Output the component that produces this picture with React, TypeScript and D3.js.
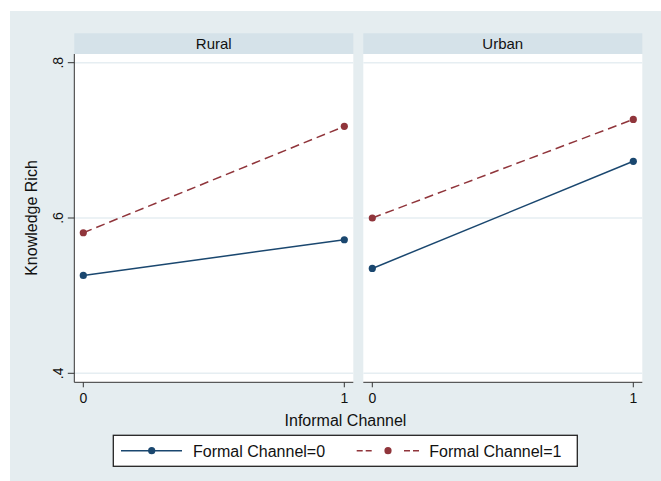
import React from "react";
import * as d3 from "d3";

const panels = ["Rural", "Urban"];
const xTicks = [0, 1];
const yTicks = [0.4, 0.6, 0.8];
const yTickLabels = [".4", ".6", ".8"];
const seriesNames = ["Formal Channel=0", "Formal Channel=1"];
const ruralFormal0 = [0.526, 0.572];
const ruralFormal1 = [0.581, 0.718];
const urbanFormal0 = [0.535, 0.673];
const urbanFormal1 = [0.6, 0.727];
const xTitle = "Informal Channel";
const yTitle = "Knowledge Rich";

const NAVY = "#1a476f";
const MAROON = "#90353b";
const FONT = "'Liberation Sans', Arial, sans-serif";

export default function App() {
  const W = 661, H = 481;
  const panelX = [
    [74.3, 353.3],
    [363.3, 642.3],
  ];
  const headerTop = 33.3, plotTop = 54, plotBottom = 382.3;
  const y = d3.scaleLinear().domain([0.4, 0.8]).range([373.3, 62.7]);
  const data = [
    [ruralFormal0, ruralFormal1],
    [urbanFormal0, urbanFormal1],
  ];
  const colors = [NAVY, MAROON];
  const dashes = [undefined, "9,5"];

  return (
    <svg width={W} height={H} style={{ position: "absolute", left: 0, top: 0, display: "block" }} fontFamily={FONT}>
      <rect x={0} y={0} width={W} height={H} fill="#ffffff" />
      <rect x={10} y={11} width={W - 10} height={H - 11} fill="#e5edf0" />
      {panels.map((name, pi) => {
        const [x0, x1] = panelX[pi];
        const x = d3.scaleLinear().domain([0, 1]).range([x0 + 9, x1 - 9]);
        const line = d3
          .line<number>()
          .x((_, i) => x(xTicks[i]))
          .y((v) => y(v));
        return (
          <g key={name}>
            <rect x={x0} y={headerTop} width={x1 - x0} height={plotTop - headerTop} fill="#d5e2e9" />
            <text x={(x0 + x1) / 2} y={49} textAnchor="middle" fontSize={15} fill="#111">
              {name}
            </text>
            <rect x={x0} y={plotTop} width={x1 - x0} height={plotBottom - plotTop} fill="#ffffff" />
            {yTicks.map((t) => (
              <line key={t} x1={x0} x2={x1} y1={y(t)} y2={y(t)} stroke="#e6eef2" strokeWidth={1.6} />
            ))}
            {data[pi].map((vals, si) => (
              <g key={si}>
                <path d={line(vals) || ""} fill="none" stroke={colors[si]} strokeWidth={1.5} strokeDasharray={dashes[si]} />
                {vals.map((v, i) => (
                  <circle key={i} cx={x(xTicks[i])} cy={y(v)} r={3.6} fill={colors[si]} />
                ))}
              </g>
            ))}
            <line x1={x0} x2={x1} y1={plotBottom} y2={plotBottom} stroke="#333" strokeWidth={1} />
            {xTicks.map((t) => (
              <g key={t}>
                <line x1={x(t)} x2={x(t)} y1={plotBottom} y2={plotBottom + 5} stroke="#333" strokeWidth={1} />
                <text x={x(t)} y={403.3} textAnchor="middle" fontSize={14} fill="#111">
                  {t}
                </text>
              </g>
            ))}
            {pi === 0 && (
              <g>
                <line x1={x0} x2={x0} y1={plotTop} y2={plotBottom} stroke="#333" strokeWidth={1} />
                {yTicks.map((t, i) => (
                  <g key={t}>
                    <line x1={x0 - 6.5} x2={x0} y1={y(t)} y2={y(t)} stroke="#333" strokeWidth={1} />
                    <text
                      transform={`translate(62.5,${y(t)}) rotate(-90)`}
                      textAnchor="middle"
                      fontSize={14}
                      fill="#111"
                    >
                      {yTickLabels[i]}
                    </text>
                  </g>
                ))}
              </g>
            )}
          </g>
        );
      })}
      <text transform={`translate(37,218) rotate(-90)`} textAnchor="middle" fontSize={16} fill="#111">
        {yTitle}
      </text>
      <text x={345.5} y={425.7} textAnchor="middle" fontSize={16} fill="#111">
        {xTitle}
      </text>
      <g>
        <rect x={113.3} y={435.3} width={464} height={31} fill="#ffffff" stroke="#222" strokeWidth={1.3} />
        <line x1={121} x2={182} y1={450.7} y2={450.7} stroke={NAVY} strokeWidth={1.5} />
        <circle cx={151.7} cy={450.7} r={3.6} fill={NAVY} />
        <text x={193} y={456.7} fontSize={16} fill="#111">
          {seriesNames[0]}
        </text>
        <line x1={356.7} x2={372} y1={450.7} y2={450.7} stroke={MAROON} strokeWidth={1.5} strokeDasharray="6,3" />
        <line x1={404} x2={419.3} y1={450.7} y2={450.7} stroke={MAROON} strokeWidth={1.5} strokeDasharray="6,3" />
        <circle cx={388} cy={450.7} r={3.6} fill={MAROON} />
        <text x={429.3} y={456.7} fontSize={16} fill="#111">
          {seriesNames[1]}
        </text>
      </g>
    </svg>
  );
}
